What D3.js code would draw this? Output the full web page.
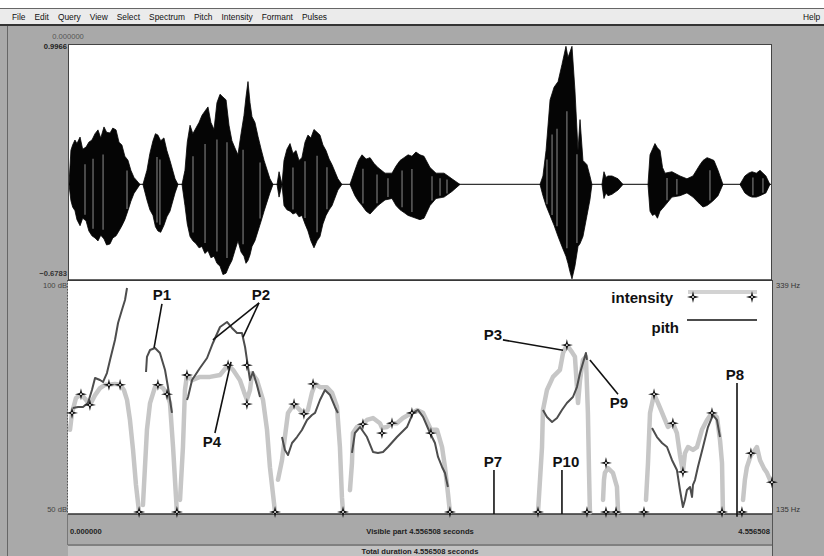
<!DOCTYPE html>
<html><head><meta charset="utf-8">
<script src="https://cdn.jsdelivr.net/npm/d3@7"></script>
<style>
body{margin:0;background:#fff}
svg{display:block}
text{font-family:"Liberation Sans",Arial,Helvetica,sans-serif}
</style>
</head><body>
<svg id="chart" width="824" height="556"></svg>
<script>
// ---- sound: duration and waveform envelope [time s, upper amp, lower amp] ----
const duration = 4.556508;
const ampRange = [-0.6783, 0.9966];
const waveSegments = [
  [[0.0065,0,0],[0.019,0.243,-0.115],[0.030,0.28,-0.16],[0.045,0.315,-0.186],[0.058,0.29,-0.25],[0.078,0.336,-0.293],[0.095,0.25,-0.24],[0.117,0.265,-0.258],[0.135,0.30,-0.33],[0.155,0.315,-0.365],[0.175,0.36,-0.38],[0.194,0.387,-0.401],[0.212,0.33,-0.36],[0.233,0.408,-0.387],[0.250,0.37,-0.43],[0.272,0.365,-0.422],[0.290,0.40,-0.38],[0.311,0.387,-0.365],[0.330,0.30,-0.33],[0.349,0.279,-0.293],[0.368,0.20,-0.25],[0.388,0.172,-0.186],[0.407,0.10,-0.12],[0.427,0.05,-0.064],[0.466,0,0]],
  [[0.485,0,0],[0.511,0.10,-0.11],[0.530,0.22,-0.18],[0.550,0.31,-0.22],[0.566,0.36,-0.30],[0.582,0.35,-0.33],[0.600,0.31,-0.34],[0.621,0.33,-0.29],[0.640,0.24,-0.23],[0.660,0.17,-0.19],[0.693,0.04,-0.06],[0.712,0,0]],
  [[0.738,0,0],[0.757,0.10,-0.15],[0.772,0.30,-0.28],[0.790,0.42,-0.37],[0.808,0.36,-0.40],[0.828,0.40,-0.42],[0.848,0.44,-0.45],[0.867,0.49,-0.44],[0.886,0.52,-0.49],[0.906,0.55,-0.47],[0.925,0.44,-0.52],[0.945,0.39,-0.51],[0.964,0.58,-0.56],[0.984,0.64,-0.58],[1.003,0.62,-0.64],[1.023,0.60,-0.63],[1.042,0.42,-0.58],[1.061,0.31,-0.54],[1.080,0.26,-0.47],[1.100,0.21,-0.40],[1.120,0.36,-0.48],[1.139,0.49,-0.51],[1.152,0.62,-0.56],[1.165,0.73,-0.54],[1.178,0.58,-0.50],[1.191,0.48,-0.44],[1.210,0.44,-0.40],[1.230,0.34,-0.33],[1.250,0.25,-0.26],[1.269,0.17,-0.19],[1.307,0.04,-0.06],[1.327,0,0]],
  [[1.353,0,0],[1.366,0.09,-0.09],[1.385,0,0]],
  [[1.385,0,0],[1.398,0.17,-0.15],[1.417,0.25,-0.18],[1.437,0.29,-0.19],[1.456,0.22,-0.21],[1.476,0.24,-0.20],[1.495,0.17,-0.23],[1.514,0.19,-0.22],[1.534,0.30,-0.28],[1.553,0.35,-0.33],[1.572,0.33,-0.40],[1.592,0.39,-0.45],[1.612,0.37,-0.40],[1.631,0.35,-0.37],[1.650,0.28,-0.28],[1.670,0.24,-0.22],[1.690,0.18,-0.18],[1.709,0.14,-0.15],[1.747,0.04,-0.04],[1.773,0,0]],
  [[1.825,0,0],[1.857,0.10,-0.08],[1.880,0.17,-0.12],[1.903,0.21,-0.15],[1.930,0.18,-0.19],[1.955,0.19,-0.21],[1.980,0.15,-0.18],[2.006,0.12,-0.15],[2.052,0.08,-0.11],[2.097,0.08,-0.10],[2.123,0.13,-0.15],[2.149,0.17,-0.18],[2.175,0.19,-0.20],[2.201,0.21,-0.22],[2.226,0.20,-0.23],[2.252,0.23,-0.24],[2.278,0.21,-0.25],[2.304,0.20,-0.24],[2.343,0.12,-0.15],[2.382,0.08,-0.10],[2.434,0.08,-0.09],[2.485,0.04,-0.05],[2.537,0,0]],
  [[3.055,0,0],[3.074,0.06,-0.08],[3.094,0.24,-0.15],[3.120,0.60,-0.22],[3.146,0.69,-0.29],[3.172,0.73,-0.37],[3.197,0.85,-0.44],[3.223,0.98,-0.51],[3.236,0.90,-0.56],[3.249,0.94,-0.62],[3.262,0.98,-0.67],[3.281,0.67,-0.58],[3.301,0.24,-0.44],[3.314,0.46,-0.42],[3.333,0.17,-0.37],[3.359,0.14,-0.22],[3.378,0.06,-0.11],[3.391,0,0]],
  [[3.456,0,0],[3.469,0.09,-0.10],[3.482,0.05,-0.06],[3.495,0.06,-0.08],[3.521,0.06,-0.07],[3.560,0.04,-0.04],[3.592,0,0]],
  [[3.754,0,0],[3.767,0.21,-0.19],[3.783,0.25,-0.22],[3.799,0.29,-0.21],[3.815,0.26,-0.24],[3.832,0.24,-0.19],[3.848,0.12,-0.17],[3.864,0.08,-0.15],[3.909,0.09,-0.09],[3.961,0.06,-0.08],[4.006,0.04,-0.06],[4.045,0.06,-0.09],[4.090,0.14,-0.14],[4.110,0.17,-0.16],[4.136,0.19,-0.15],[4.160,0.18,-0.13],[4.181,0.17,-0.11],[4.207,0.10,-0.08],[4.239,0,0]],
  [[4.349,0,0],[4.381,0.06,-0.06],[4.405,0.08,-0.08],[4.427,0.09,-0.09],[4.455,0.08,-0.09],[4.479,0.10,-0.08],[4.517,0.06,-0.06],[4.543,0,0]]
];
// glottal pulse marks shown inside the waveform (s)
const pulseTimes = [0.110,0.162,0.227,0.382,0.576,0.595,0.809,0.887,0.964,1.029,1.133,1.243,1.456,1.534,1.612,1.676,1.909,2.000,2.071,2.162,2.226,2.356,2.408,2.453,3.100,3.133,3.165,3.229,3.294,3.877,3.941,4.155,4.433,4.498];

// ---- intensity contour (dB), one array per voiced stretch ----
const dbRange = [50, 100];
const intensitySegments = [
  [[0.013,68.0],[0.026,71.6],[0.052,74.8],[0.084,75.6],[0.116,74.4],[0.142,73.3],[0.175,75.4],[0.207,76.9],[0.239,77.6],[0.265,77.6],[0.304,77.8],[0.337,77.6],[0.362,76.5],[0.382,74.4],[0.401,70.1],[0.421,63.7],[0.440,56.2],[0.460,50.4]],
  [[0.485,51.9],[0.511,68.0],[0.531,73.7],[0.563,77.1],[0.582,77.6],[0.615,76.9],[0.641,75.6],[0.660,73.7],[0.680,64.3],[0.699,53.6],[0.705,50.4]],
  [[0.725,53.0],[0.744,64.3],[0.757,76.5],[0.770,79.7],[0.803,78.6],[0.854,79.3],[0.919,79.3],[0.984,79.7],[1.036,81.8],[1.068,80.8],[1.113,78.6],[1.139,76.1],[1.158,74.4],[1.178,76.5],[1.191,80.1],[1.223,78.6],[1.262,74.4],[1.288,68.0],[1.307,60.0],[1.340,50.4]],
  [[1.359,57.3],[1.385,61.5],[1.404,66.5],[1.424,71.6],[1.463,73.5],[1.502,72.2],[1.527,71.4],[1.553,72.2],[1.579,75.9],[1.599,77.8],[1.631,77.1],[1.676,77.1],[1.709,75.9],[1.741,72.9],[1.760,64.3],[1.773,53.6],[1.780,50.4]],
  [[1.825,55.1],[1.838,60.9],[1.844,67.3],[1.870,68.6],[1.909,69.2],[1.935,70.1],[1.974,70.5],[2.019,69.4],[2.032,68.4],[2.065,68.6],[2.097,69.4],[2.129,69.4],[2.168,70.5],[2.226,71.6],[2.259,72.2],[2.298,71.6],[2.349,68.0],[2.388,68.0],[2.421,64.3],[2.440,60.0],[2.459,54.5],[2.472,50.4]],
  [[3.042,50.4],[3.068,64.3],[3.074,72.2],[3.100,76.5],[3.139,79.3],[3.184,80.8],[3.204,84.4],[3.229,86.1],[3.262,84.6],[3.281,83.6],[3.301,73.7],[3.314,78.6],[3.333,82.9],[3.352,83.6],[3.365,71.6],[3.372,59.4],[3.378,50.4]],
  [[3.463,53.0],[3.469,57.3],[3.475,58.8],[3.495,59.8],[3.527,58.8],[3.553,55.8],[3.560,50.4]],
  [[3.741,53.0],[3.754,60.9],[3.767,71.6],[3.793,75.6],[3.819,73.7],[3.838,72.2],[3.864,70.1],[3.883,68.6],[3.915,69.4],[3.941,67.3],[3.961,62.6],[3.980,59.0],[3.993,63.0],[4.013,64.3],[4.045,63.7],[4.071,64.3],[4.103,68.0],[4.136,70.1],[4.168,71.6],[4.200,70.7],[4.220,65.8],[4.233,60.9],[4.239,50.4]],
  [[4.369,53.0],[4.381,57.3],[4.394,60.0],[4.420,62.6],[4.433,63.0],[4.459,64.3],[4.479,61.5],[4.504,59.8],[4.524,58.8],[4.550,56.8]]
];
// intensity landmarks (s, dB)
const intensityPoints = [
  [0.026,71.6],[0.084,75.6],[0.142,73.3],[0.265,77.6],[0.337,77.6],[0.460,50.4],[0.582,77.6],[0.641,75.6],[0.705,50.4],
  [0.770,79.7],[1.036,81.8],[1.158,81.8],[1.158,73.5],[1.340,50.4],[1.463,73.5],[1.527,71.4],[1.586,77.8],[1.780,50.4],
  [1.909,69.2],[2.032,67.3],[2.097,69.4],[2.226,71.6],[2.349,67.3],[2.472,50.4],[3.042,50.4],[3.229,86.1],[3.359,50.4],
  [3.482,60.9],[3.482,50.4],[3.547,50.4],[3.728,50.4],[3.793,75.6],[3.915,69.4],[3.980,59.0],[4.168,71.6],[4.233,50.4],
  [4.362,50.4],[4.420,63.0],[4.556,56.8]
];

// ---- pitch contour (Hz) ----
const hzRange = [135, 339];
const pitchSegments = [
  [[0.032,227.4],[0.065,228.3],[0.097,228.3],[0.129,231.8],[0.155,243.1],[0.175,253.6],[0.207,251.8],[0.227,250.1],[0.252,257.9],[0.272,269.3],[0.304,286.7],[0.324,301.5],[0.349,312.8],[0.369,321.6],[0.382,332.0]],
  [[0.505,258.8],[0.511,271.9],[0.531,278.0],[0.563,279.7],[0.595,275.4],[0.628,260.5],[0.647,245.7],[0.660,234.4],[0.673,223.1]],
  [[0.770,234.4],[0.777,237.0],[0.803,251.8],[0.854,262.3],[0.900,271.0],[0.938,284.1],[0.984,298.0],[1.029,302.4],[1.061,297.2],[1.094,292.8],[1.126,292.8],[1.146,280.6],[1.165,263.2],[1.178,251.8],[1.197,258.8],[1.223,247.5],[1.243,237.0]],
  [[1.385,202.1],[1.404,190.8],[1.424,186.4],[1.450,196.9],[1.482,202.1],[1.514,208.2],[1.547,217.0],[1.579,221.3],[1.599,223.1],[1.631,234.4],[1.663,243.1],[1.696,238.7],[1.728,228.3],[1.747,223.1]],
  [[1.838,188.2],[1.857,205.6],[1.890,210.8],[1.935,202.1],[1.974,189.1],[2.006,188.2],[2.039,189.1],[2.071,193.4],[2.129,202.1],[2.194,210.8],[2.233,223.1],[2.265,225.7],[2.298,219.6],[2.343,205.6],[2.375,196.9],[2.395,184.7],[2.421,176.0],[2.440,170.7],[2.459,158.5]],
  [[3.074,225.7],[3.100,219.6],[3.133,215.2],[3.165,218.7],[3.197,225.7],[3.229,231.8],[3.268,237.0],[3.294,245.7],[3.314,257.9],[3.333,266.6],[3.352,275.4],[3.359,269.3]],
  [[3.780,210.0],[3.812,202.1],[3.845,196.9],[3.877,193.4],[3.909,182.1],[3.941,173.4],[3.961,155.9],[3.980,141.1],[3.993,147.2],[4.006,155.9],[4.026,158.5],[4.039,149.8],[4.045,160.3],[4.058,164.6],[4.077,176.0],[4.110,193.4],[4.142,210.8],[4.174,221.3],[4.200,217.0],[4.220,202.1]]
];

// ---- point labels: text anchor and leader lines, in (s, dB) ----
const labels = [
  {name:"P1",  at:[0.608,95.7], lines:[[[0.608,94.9],[0.557,85.5]]]},
  {name:"P2",  at:[1.249,95.7], lines:[[[1.236,95.1],[0.938,87.2]],[[1.236,95.1],[1.133,87.8]]]},
  {name:"P4",  at:[0.932,64.3], lines:[[[0.951,67.3],[1.055,82.5]]]},
  {name:"P3",  at:[2.751,87.2], lines:[[[2.815,87.2],[3.204,85.0]]]},
  {name:"P7",  at:[2.751,60.0], lines:[[[2.757,59.4],[2.757,50.0]]]},
  {name:"P9",  at:[3.566,72.7], lines:[[[3.560,75.6],[3.378,82.9]]]},
  {name:"P10", at:[3.223,60.0], lines:[[[3.197,59.4],[3.197,50.0]]]},
  {name:"P8",  at:[4.317,78.6], lines:[[[4.330,78.0],[4.330,49.4]]]}
];

const menuItems = ["File","Edit","Query","View","Select","Spectrum","Pitch","Intensity","Formant","Pulses"];
const legendItems = ["intensity","pith"];

// ---------------------------------------------------------------
const svg = d3.select("#chart");
const L = 68, R = 772, waveTop = 44, mid = 280, bottom = 514;

const x = d3.scaleLinear().domain([0, duration]).range([L, R]);
const yAmp = d3.scaleLinear().domain(ampRange).range([mid, waveTop]);
const yDb = d3.scaleLinear().domain(dbRange).range([bottom, mid]);
const yHz = d3.scaleLinear().domain(hzRange).range([bottom, mid]);

// window chrome
svg.append("rect").attr("x",0).attr("y",0).attr("width",824).attr("height",556).attr("fill","#fff");
svg.append("rect").attr("x",0).attr("y",26).attr("width",824).attr("height",530).attr("fill","#a9a9a9");
svg.append("rect").attr("x",0).attr("y",8).attr("width",824).attr("height",17).attr("fill","#ebebeb");
svg.append("line").attr("x1",0).attr("x2",824).attr("y1",8.5).attr("y2",8.5).attr("stroke","#666");
svg.append("line").attr("x1",0).attr("x2",824).attr("y1",25).attr("y2",25).attr("stroke","#333").attr("stroke-width",2);
svg.append("line").attr("x1",7.5).attr("x2",7.5).attr("y1",26).attr("y2",556).attr("stroke","#666");

// menu bar
let mx = 12;
menuItems.forEach(m => {
  const t = svg.append("text").attr("x",mx).attr("y",19.5).attr("font-size",8.4).attr("fill","#111").text(m);
  mx += t.node().getComputedTextLength() + 9;
});
svg.append("text").attr("x",803).attr("y",19.5).attr("font-size",8.4).attr("fill","#111").text("Help");

// bottom time bars
svg.append("rect").attr("x",L).attr("y",545).attr("width",R-L).attr("height",11).attr("fill","#c2c2c2");
svg.append("line").attr("x1",L).attr("x2",R).attr("y1",545).attr("y2",545).attr("stroke","#808080").attr("stroke-width",2);
svg.append("line").attr("x1",R+0.5).attr("x2",R+0.5).attr("y1",bottom).attr("y2",556).attr("stroke","#555");
svg.append("line").attr("x1",L-0.5).attr("x2",L-0.5).attr("y1",bottom).attr("y2",545).attr("stroke","#777");

// panels
svg.append("rect").attr("x",L).attr("y",waveTop).attr("width",R-L).attr("height",bottom-waveTop).attr("fill","#fff");

// waveform
const wave = svg.append("g");
wave.append("line").attr("x1",L).attr("x2",R).attr("y1",yAmp(0)).attr("y2",yAmp(0)).attr("stroke","#333").attr("stroke-width",1.2);
const waveArea = d3.area().x(d => x(d[0])).y0(d => yAmp(d[2])).y1(d => yAmp(d[1]));
waveSegments.forEach(seg => wave.append("path").attr("d", waveArea(seg)).attr("fill","#050505").attr("stroke","#050505").attr("stroke-width",0.8).attr("stroke-linejoin","miter"));
// pulse stripes, sized from the envelope at that instant
function envAt(t){
  for (const seg of waveSegments){
    if (t >= seg[0][0] && t <= seg[seg.length-1][0]){
      for (let i=1;i<seg.length;i++){
        if (t <= seg[i][0]){
          const a = seg[i-1], b = seg[i], f = (t-a[0])/(b[0]-a[0]);
          return [a[1]+(b[1]-a[1])*f, a[2]+(b[2]-a[2])*f];
        }
      }
    }
  }
  return [0,0];
}
pulseTimes.forEach(t => {
  const [hi, lo] = envAt(t);
  wave.append("line").attr("x1",x(t)).attr("x2",x(t))
    .attr("y1",yAmp(hi*0.55)).attr("y2",yAmp(lo*0.85))
    .attr("stroke","#777").attr("stroke-width",1.2);
});

// panel borders
svg.append("rect").attr("x",L+0.5).attr("y",waveTop+0.5).attr("width",R-L-1).attr("height",mid-waveTop).attr("fill","none").attr("stroke","#444");
svg.append("line").attr("x1",L).attr("x2",R).attr("y1",mid).attr("y2",mid).attr("stroke","#333").attr("stroke-width",1.5);
svg.append("line").attr("x1",L).attr("x2",R).attr("y1",bottom).attr("y2",bottom).attr("stroke","#333").attr("stroke-width",1.5);
svg.append("line").attr("x1",R+0.5).attr("x2",R+0.5).attr("y1",mid).attr("y2",bottom).attr("stroke","#444");
svg.append("line").attr("x1",L-0.5).attr("x2",L-0.5).attr("y1",mid).attr("y2",bottom).attr("stroke","#555").attr("stroke-dasharray","1.5,1.5");

// intensity contour
const lower = svg.append("g");
const intLine = d3.line().x(d => x(d[0])).y(d => yDb(d[1]));
intensitySegments.forEach(seg => lower.append("path").attr("d", intLine(seg))
  .attr("fill","none").attr("stroke","#c6c6c6").attr("stroke-width",4.5).attr("stroke-linejoin","round").attr("stroke-linecap","round"));

// pitch contour
const pitchLine = d3.line().x(d => x(d[0])).y(d => yHz(d[1]));
pitchSegments.forEach(seg => lower.append("path").attr("d", pitchLine(seg))
  .attr("fill","none").attr("stroke","#4d4d4d").attr("stroke-width",2).attr("stroke-linejoin","round"));

// four-point star marker
function starPath(r, ri){
  const pts = [];
  for (let i=0;i<8;i++){
    const a = i*Math.PI/4 - Math.PI/2, rr = i%2===0 ? r : ri;
    pts.push([Math.cos(a)*rr, Math.sin(a)*rr]);
  }
  return "M" + pts.map(p => p.join(",")).join("L") + "Z";
}
function star(g, cx, cy){
  g.append("path").attr("transform",`translate(${cx},${cy})`).attr("d", starPath(6, 1.6)).attr("fill","#111");
  g.append("circle").attr("cx",cx).attr("cy",cy).attr("r",0.9).attr("fill","#fff");
}
intensityPoints.forEach(p => star(lower, x(p[0]), Math.min(yDb(p[1]), bottom-2)));

// point labels
const ann = svg.append("g");
labels.forEach(l => {
  l.lines.forEach(seg => ann.append("line")
    .attr("x1",x(seg[0][0])).attr("y1",yDb(seg[0][1]))
    .attr("x2",x(seg[1][0])).attr("y2",yDb(seg[1][1]))
    .attr("stroke","#111").attr("stroke-width",1.6));
  ann.append("text").attr("x",x(l.at[0])).attr("y",yDb(l.at[1])).attr("text-anchor","middle")
    .attr("font-size",15).attr("font-weight","bold").attr("fill","#111").text(l.name);
});

// legend
const lg = svg.append("g");
lg.append("text").attr("x",673).attr("y",303).attr("text-anchor","end").attr("font-size",15).attr("font-weight","bold").attr("fill","#111").text(legendItems[0]);
lg.append("line").attr("x1",688).attr("x2",757).attr("y1",292).attr("y2",292).attr("stroke","#d2d2d2").attr("stroke-width",4);
star(lg, 693, 297); star(lg, 752, 297);
lg.append("text").attr("x",679).attr("y",333).attr("text-anchor","end").attr("font-size",15).attr("font-weight","bold").attr("fill","#111").text(legendItems[1]);
lg.append("line").attr("x1",687).attr("x2",757).attr("y1",320).attr("y2",320).attr("stroke","#111").attr("stroke-width",1.6);

// axis values at the panel corners
const fmt6 = d3.format(".6f");
const small = (t, xx, yy, anchor, opts={}) => svg.append("text").attr("x",xx).attr("y",yy)
  .attr("text-anchor",anchor).attr("font-size",opts.size||7.6).attr("font-weight",opts.bold?"bold":"normal")
  .attr("fill",opts.fill||"#222").text(t);
small(fmt6(0), x(0), 39, "middle", {fill:"#555"});
small(d3.format(".4f")(ampRange[1]), L-1, yAmp(ampRange[1])+5, "end", {bold:true});
small(d3.format(".4f")(ampRange[0]), L-1, yAmp(ampRange[0])-4, "end", {bold:true, fill:"#333"});
small(`${dbRange[1]} dB`, L-1, yDb(dbRange[1])+8, "end", {fill:"#444"});
small(`${dbRange[0]} dB`, L-1, yDb(dbRange[0])-2, "end", {fill:"#444"});
small(`${hzRange[1]} Hz`, R+4, yHz(hzRange[1])+8, "start", {fill:"#333"});
small(`${hzRange[0]} Hz`, R+4, yHz(hzRange[0])-2, "start", {fill:"#333"});
small(fmt6(0), x(0)+2, 534, "start", {bold:true});
small(`Visible part ${fmt6(duration)} seconds`, (L+R)/2, 534, "middle", {bold:true});
small(fmt6(duration), R-2, 534, "end", {bold:true});
small(`Total duration ${fmt6(duration)} seconds`, (L+R)/2, 554, "middle", {bold:true});
</script>
</body></html>
